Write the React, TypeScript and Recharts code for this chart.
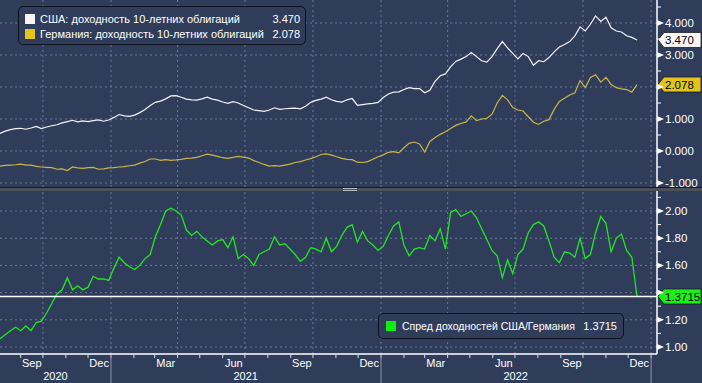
import React from 'react';
import { LineChart, Line, XAxis, YAxis, ReferenceLine } from 'recharts';

// ---------- data ----------
const seriesStart = '2020-08-04'; // first weekly observation
const usYield = [
  0.55, 0.62, 0.67, 0.70, 0.71, 0.68, 0.72, 0.77, 0.70, 0.75,
  0.79, 0.82, 0.88, 0.92, 0.96, 0.91, 0.94, 0.92, 0.95, 0.97,
  0.93, 0.97, 1.05, 1.14, 1.10, 1.08, 1.12, 1.20, 1.30, 1.42,
  1.52, 1.56, 1.63, 1.72, 1.73, 1.68, 1.62, 1.60, 1.59, 1.63,
  1.68, 1.62, 1.59, 1.53, 1.49, 1.54, 1.50, 1.42, 1.35, 1.28,
  1.26, 1.24, 1.28, 1.35, 1.30, 1.32, 1.33, 1.34, 1.32, 1.40,
  1.52, 1.58, 1.62, 1.68, 1.60, 1.55, 1.53, 1.60, 1.64, 1.43,
  1.45, 1.47, 1.49, 1.52, 1.67, 1.78, 1.84, 1.85, 1.92, 1.98,
  1.95, 1.95, 1.82, 1.90, 2.18, 2.35, 2.41, 2.63, 2.80, 2.87,
  2.95, 3.08, 2.95, 2.82, 2.78, 2.95, 3.20, 3.42, 3.22, 3.05,
  2.88, 3.05, 2.95, 2.68, 2.82, 2.79, 2.92, 3.10, 3.25, 3.33,
  3.42, 3.60, 3.88, 3.75, 3.96, 4.22, 4.05, 4.18, 3.85, 3.75,
  3.72, 3.60, 3.55, 3.47,
];
const deYield = [
  -0.47, -0.45, -0.44, -0.43, -0.41, -0.44, -0.44, -0.48, -0.50, -0.51,
  -0.52, -0.57, -0.56, -0.61, -0.50, -0.53, -0.54, -0.52, -0.51, -0.57,
  -0.56, -0.53, -0.52, -0.50, -0.49, -0.46, -0.44, -0.38, -0.33, -0.25,
  -0.25, -0.29, -0.27, -0.29, -0.28, -0.26, -0.23, -0.22, -0.20, -0.15,
  -0.10, -0.13, -0.17, -0.21, -0.23, -0.20, -0.17, -0.19, -0.22, -0.30,
  -0.36, -0.42, -0.47, -0.46, -0.47, -0.44, -0.41, -0.36, -0.33, -0.28,
  -0.24, -0.18, -0.11, -0.09, -0.13, -0.18, -0.23, -0.26, -0.27, -0.35,
  -0.36, -0.33, -0.26, -0.18, -0.12, -0.04, -0.02, -0.06, 0.10, 0.24,
  0.28, 0.22, -0.03, 0.30, 0.42, 0.52, 0.60, 0.70, 0.80, 0.86,
  0.91, 1.10, 0.95, 1.00, 1.02, 1.15, 1.50, 1.74, 1.60, 1.36,
  1.28, 1.25, 1.07, 0.90, 0.83, 0.93, 0.98, 1.30, 1.55, 1.65,
  1.75, 1.82, 2.20, 1.98, 2.30, 2.38, 2.15, 2.30, 2.08, 1.98,
  1.94, 1.92, 1.84, 2.078,
];
const spreadUsDe = [
  1.06, 1.09, 1.12, 1.145, 1.12, 1.155, 1.12, 1.18, 1.19, 1.25,
  1.32, 1.39, 1.42, 1.51, 1.42, 1.45, 1.42, 1.44, 1.52, 1.50,
  1.50, 1.49, 1.58, 1.66, 1.62, 1.59, 1.57, 1.60, 1.65, 1.68,
  1.81, 1.90, 2.00, 2.02, 2.00, 1.97, 1.86, 1.82, 1.85, 1.81,
  1.78, 1.75, 1.78, 1.79, 1.73, 1.81, 1.65, 1.68, 1.65, 1.60,
  1.68, 1.70, 1.72, 1.81, 1.75, 1.76, 1.72, 1.68, 1.63, 1.66,
  1.73, 1.72, 1.70, 1.80, 1.70, 1.74, 1.82, 1.88, 1.90, 1.77,
  1.85, 1.78, 1.75, 1.71, 1.74, 1.82, 1.89, 1.92, 1.75, 1.67,
  1.72, 1.73, 1.72, 1.82, 1.78, 1.87, 1.72, 1.99, 2.01, 1.96,
  1.98, 2.00, 1.95, 1.87, 1.79, 1.71, 1.67, 1.51, 1.64, 1.54,
  1.68, 1.72, 1.84, 1.90, 1.92, 1.89, 1.78, 1.66, 1.62, 1.70,
  1.69, 1.66, 1.80, 1.65, 1.68, 1.84, 1.96, 1.91, 1.70, 1.80,
  1.83, 1.71, 1.66, 1.3715,
];

const seriesNames = [
  'США: доходность 10-летних облигаций',
  'Германия: доходность 10-летних облигаций',
  'Спред доходностей США/Германия',
];
const axisRange = ['2020-08-04', '2023-01-09'];
const monthLabels = ['Sep', 'Dec', 'Mar', 'Jun', 'Sep', 'Dec', 'Mar', 'Jun', 'Sep', 'Dec'];
const monthLabelDates = [
  '2020-09-16', '2020-12-16', '2021-03-16', '2021-06-16', '2021-09-16',
  '2021-12-16', '2022-03-16', '2022-06-16', '2022-09-16', '2022-12-16',
];
const yearLabels = ['2020', '2021', '2022'];
const yearLabelDates = ['2020-10-18', '2021-07-02', '2022-07-02'];
const quarterGridDates = [
  '2020-10-01', '2021-01-01', '2021-04-01', '2021-07-01', '2021-10-01',
  '2022-01-01', '2022-04-01', '2022-07-01', '2022-10-01', '2023-01-01',
];
const topTicks = [-1, -0.5, 0, 0.5, 1, 1.5, 2, 2.5, 3, 3.5, 4, 4.5];
const topGrid = [-1, 0, 1, 2, 3, 4];
const bottomTicks = [1.0, 1.1, 1.2, 1.3, 1.4, 1.5, 1.6, 1.7, 1.8, 1.9, 2.0, 2.1];
const bottomGrid = [1.0, 1.2, 1.4, 1.6, 1.8, 2.0];

// ---------- styling ----------
const BG = '#2f3d5b';
const GRID = '#6a7a9a';
const US_COLOR = '#f4f2f6';
const DE_COLOR = '#cbb545';
const DE_TAG = '#e2c41a';
const SPREAD_COLOR = '#22e622';
const SPREAD_TAG = '#18f018';
const FONT = '"Liberation Sans", Arial, sans-serif';

const ts = (s: string) => Date.parse(s + 'T00:00:00Z');
const DAY = 86400000;
const startT = ts(seriesStart);
const weekDates = usYield.map((_, i) => startT + i * 7 * DAY);
const domainX: [number, number] = [ts(axisRange[0]), ts(axisRange[1])];

const topData = weekDates.map((t, i) => ({ t, us: usYield[i], de: deYield[i] }));
const bottomData = weekDates.map((t, i) => ({ t, spread: spreadUsDe[i] }));

const usLast = usYield[usYield.length - 1];
const deLast = deYield[deYield.length - 1];
const spLast = spreadUsDe[spreadUsDe.length - 1];

// month starts inside axis range
const monthStarts: number[] = [];
for (let y = 2020; y <= 2023; y++) {
  for (let m = 0; m < 12; m++) {
    const t = Date.UTC(y, m, 1);
    if (t >= domainX[0] && t <= domainX[1]) monthStarts.push(t);
  }
}
const xTickKind = new Map<number, { kind: string; label?: string }>();
monthStarts.forEach((t) => {
  const d = new Date(t);
  xTickKind.set(t, { kind: d.getUTCMonth() === 0 ? 'yearStart' : 'month' });
});
monthLabelDates.forEach((s, i) => xTickKind.set(ts(s), { kind: 'mlabel', label: monthLabels[i] }));
yearLabelDates.forEach((s, i) => xTickKind.set(ts(s), { kind: 'ylabel', label: yearLabels[i] }));
const xTicks = Array.from(xTickKind.keys()).sort((a, b) => a - b);

// ---------- custom renderers ----------
const XTick = (props: any) => {
  const { x, y, payload } = props;
  const info = xTickKind.get(payload.value);
  if (!info) return null;
  if (info.kind === 'month') {
    return <line x1={x} x2={x} y1={y} y2={y + 4} stroke="#d8dce6" strokeWidth={1} />;
  }
  if (info.kind === 'yearStart') {
    return (
      <g>
        <line x1={x} x2={x} y1={y} y2={y + 4} stroke="#d8dce6" strokeWidth={1} />
        <line x1={x} x2={x} y1={y + 4} y2={y + 29} stroke="#8d97ad" strokeWidth={1} />
      </g>
    );
  }
  if (info.kind === 'mlabel') {
    return (
      <text x={x} y={y + 13} textAnchor="middle" fontSize={11} fill="#ffffff" fontFamily={FONT}>
        {info.label}
      </text>
    );
  }
  return (
    <text x={x} y={y + 26} textAnchor="middle" fontSize={11} fill="#ffffff" fontFamily={FONT}>
      {info.label}
    </text>
  );
};

const makeYTick = (isMajor: (v: number) => boolean, digits: number, hidden: number[], hideDist: number) =>
  (props: any) => {
    const { x, y, payload } = props;
    const v = payload.value as number;
    if (!isMajor(v)) {
      return <line x1={x} x2={x + 4} y1={y} y2={y} stroke="#ffffff" strokeWidth={1} />;
    }
    const hide = hidden.some((h) => Math.abs(h - v) < hideDist);
    return (
      <g>
        <polygon points={`${x},${y - 3} ${x + 7},${y} ${x},${y + 3}`} fill="#ffffff" />
        {!hide && (
          <text x={x + 8} y={y + 4} fontSize={11.5} fill="#ffffff" fontFamily={FONT}>
            {v.toFixed(digits)}
          </text>
        )}
      </g>
    );
  };

const TopYTick = makeYTick((v) => Math.abs(v - Math.round(v)) < 1e-6, 3, [deLast, usLast], 0.2);
const BottomYTick = makeYTick((v) => Math.abs(v * 5 - Math.round(v * 5)) < 1e-6, 2, [spLast], 0.06);

const makeTag = (fill: string, text: string) => (props: any) => {
  const vb = props.viewBox || {};
  const x = (vb.x ?? 0) + (vb.width ?? 0);
  const y = vb.y ?? 0;
  return (
    <g>
      <polygon
        points={`${x + 1},${y} ${x + 7},${y - 7.5} ${x + 44},${y - 7.5} ${x + 44},${y + 7.5} ${x + 7},${y + 7.5}`}
        fill={fill}
        stroke="#1a1a1a"
        strokeWidth={0.8}
      />
      <text x={x + 8} y={y + 4.5} fontSize={11.5} fill="#000000" fontFamily={FONT}>
        {text}
      </text>
    </g>
  );
};

const gridLine = { stroke: GRID, strokeDasharray: '2 3', strokeWidth: 1 };

export default function App() {
  return (
    <div
      style={{
        position: 'absolute',
        left: 0,
        top: 0,
        width: 702,
        height: 383,
        background: BG,
        fontFamily: FONT,
        overflow: 'hidden',
      }}
    >
      {/* top panel */}
      <div style={{ position: 'absolute', left: 0, top: 0 }}>
        <LineChart width={702} height={191} data={topData} margin={{ top: 0, right: 0, bottom: 4, left: 0 }}>
          <XAxis dataKey="t" type="number" domain={domainX} allowDataOverflow hide />
          <YAxis
            orientation="right"
            width={45}
            type="number"
            domain={[-1.125, 4.71875]}
            allowDataOverflow
            ticks={topTicks}
            interval={0}
            tickSize={0}
            tickMargin={0}
            tickLine={false}
            axisLine={{ stroke: '#ffffff', strokeWidth: 1.5 }}
            tick={TopYTick}
          />
          {topGrid.map((v) => (
            <ReferenceLine key={'hg' + v} y={v} {...gridLine} />
          ))}
          {quarterGridDates.map((d) => (
            <ReferenceLine key={'vg' + d} x={ts(d)} {...gridLine} />
          ))}
          <Line dataKey="de" stroke={DE_COLOR} strokeWidth={1.2} dot={false} activeDot={false} isAnimationActive={false} type="linear" />
          <Line dataKey="us" stroke={US_COLOR} strokeWidth={1.2} dot={false} activeDot={false} isAnimationActive={false} type="linear" />
          <ReferenceLine y={usLast} stroke="none" label={makeTag('#fbf6f8', usLast.toFixed(3))} />
          <ReferenceLine y={deLast} stroke="none" label={makeTag(DE_TAG, deLast.toFixed(3))} />
        </LineChart>
      </div>

      {/* divider */}
      <div style={{ position: 'absolute', left: 0, top: 187, width: 702, height: 1, background: '#141a26' }} />
      <div style={{ position: 'absolute', left: 0, top: 188, width: 702, height: 3, background: '#4c5058' }} />
      <div style={{ position: 'absolute', left: 343, top: 188, width: 14, height: 1, background: '#b8bcc4' }} />
      <div style={{ position: 'absolute', left: 343, top: 190, width: 14, height: 1, background: '#b8bcc4' }} />

      {/* bottom panel */}
      <div style={{ position: 'absolute', left: 0, top: 190 }}>
        <LineChart width={702} height={193} data={bottomData} margin={{ top: 1, right: 0, bottom: 0, left: 0 }}>
          <XAxis
            dataKey="t"
            type="number"
            domain={domainX}
            allowDataOverflow
            ticks={xTicks}
            interval={0}
            height={29}
            tickSize={0}
            tickMargin={0}
            tickLine={false}
            axisLine={{ stroke: '#ffffff', strokeWidth: 1.5 }}
            tick={XTick}
          />
          <YAxis
            orientation="right"
            width={45}
            type="number"
            domain={[0.9485, 2.147]}
            allowDataOverflow
            ticks={bottomTicks}
            interval={0}
            tickSize={0}
            tickMargin={0}
            tickLine={false}
            axisLine={{ stroke: '#ffffff', strokeWidth: 1.5 }}
            tick={BottomYTick}
          />
          {bottomGrid.map((v) => (
            <ReferenceLine key={'hg' + v} y={v} {...gridLine} />
          ))}
          {quarterGridDates.map((d) => (
            <ReferenceLine key={'vg' + d} x={ts(d)} {...gridLine} />
          ))}
          <Line dataKey="spread" stroke={SPREAD_COLOR} strokeWidth={1.3} dot={false} activeDot={false} isAnimationActive={false} type="linear" />
          <ReferenceLine
            y={spLast}
            stroke="#ffffff"
            strokeWidth={1.5}
            label={makeTag(SPREAD_TAG, spLast.toFixed(4))}
          />
        </LineChart>
      </div>

      {/* top legend */}
      <div
        style={{
          position: 'absolute',
          left: 18,
          top: 6,
          width: 286,
          height: 37,
          border: '1px solid #0c111c',
          borderRadius: 5,
          background: BG,
          color: '#ffffff',
          fontSize: 11,
        }}
      >
        <div style={{ position: 'absolute', left: 6, top: 7, width: 10, height: 10, background: '#faf4f8' }} />
        <div style={{ position: 'absolute', left: 21, top: 4, lineHeight: '16px', whiteSpace: 'nowrap' }}>{seriesNames[0]}</div>
        <div style={{ position: 'absolute', right: 5, top: 4, lineHeight: '16px' }}>{usLast.toFixed(3)}</div>
        <div style={{ position: 'absolute', left: 6, top: 22, width: 10, height: 10, background: DE_TAG }} />
        <div style={{ position: 'absolute', left: 21, top: 19, lineHeight: '16px', whiteSpace: 'nowrap' }}>{seriesNames[1]}</div>
        <div style={{ position: 'absolute', right: 5, top: 19, lineHeight: '16px' }}>{deLast.toFixed(3)}</div>
      </div>

      {/* bottom legend */}
      <div
        style={{
          position: 'absolute',
          left: 378,
          top: 313,
          width: 244,
          height: 24,
          border: '1px solid #0c111c',
          borderRadius: 5,
          background: BG,
          color: '#ffffff',
          fontSize: 10.5,
        }}
      >
        <div style={{ position: 'absolute', left: 7, top: 7, width: 10, height: 10, background: '#0af00a' }} />
        <div style={{ position: 'absolute', left: 23, top: 4, lineHeight: '16px', whiteSpace: 'nowrap' }}>{seriesNames[2]}</div>
        <div style={{ position: 'absolute', right: 6, top: 4, lineHeight: '16px', fontSize: 11 }}>{spLast.toFixed(4)}</div>
      </div>
    </div>
  );
}
